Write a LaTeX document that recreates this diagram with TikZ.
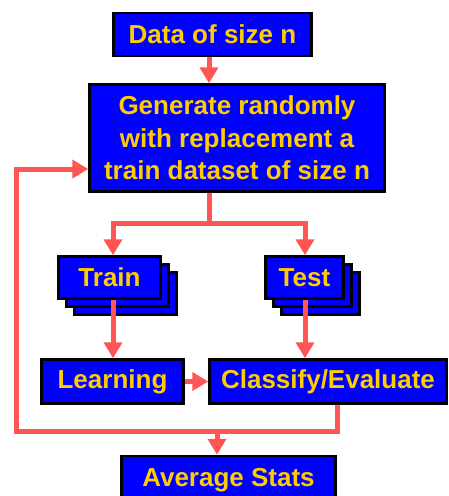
\documentclass[tikz,border=0pt]{standalone}
\usepackage{fontspec}
\setmainfont{Liberation Sans}
\usetikzlibrary{arrows.meta}
\definecolor{boxblue}{RGB}{0,0,255}
\definecolor{txtgold}{RGB}{255,204,0}
\definecolor{flowred}{RGB}{255,85,85}
\begin{document}
\begin{tikzpicture}[x=1pt,y=-1pt,
  box/.style={draw=black, line width=2.5pt, fill=boxblue, text=txtgold,
    font=\fontsize{26}{32.5}\selectfont\bfseries, inner sep=0pt, anchor=center},
  flow/.style={draw=flowred, line width=5pt, line join=miter},
  arr/.style={flow, -{Triangle[width=18pt,length=16pt]}}]
\useasboundingbox (0,0) rectangle (448,496);
\clip (0,0) rectangle (448,496);
% boxes
\node[box, minimum width=198pt, minimum height=43pt] (data) at (212.5,34.5) {Data of size n};
\node[box, minimum width=295pt, minimum height=107pt, align=center] (gen) at (237,138)
  {Generate randomly\\with replacement a\\train dataset of size n};
% train stack
\node[box, minimum width=102pt, minimum height=42pt] (train3) at (125.5,293.5) {};
\node[box, minimum width=102pt, minimum height=42pt] (train2) at (117.5,285.5) {};
\node[box, minimum width=102pt, minimum height=42pt] (train) at (109.5,277.5) {Train};
% test stack
\node[box, minimum width=78pt, minimum height=42pt] (test3) at (320.5,293.5) {};
\node[box, minimum width=78pt, minimum height=42pt] (test2) at (312.5,285.5) {};
\node[box, minimum width=78pt, minimum height=42pt] (test) at (304.5,277.5) {Test};
\node[box, minimum width=142pt, minimum height=44pt] (learn) at (112.5,381.5) {Learning};
\node[box, minimum width=237pt, minimum height=44pt] (classify) at (328,381.5) {Classify/Evaluate};
\node[box, minimum width=214pt, minimum height=48pt] (avg) at (228.5,480) {Average Stats};
% helper coordinates
\coordinate (xa) at (209,0);
\coordinate (xt) at (113,0);
\coordinate (xs) at (305,0);
\coordinate (xc) at (337,0);
\coordinate (xv) at (217,0);
\coordinate (xl) at (16.5,0);
\coordinate (split) at (209,223);
\coordinate (jy) at (0,431);
\coordinate (ly) at (0,169);
% connectors
\draw[arr] (xa |- data.south) -- (xa |- gen.north);
\draw[flow] (xa |- gen.south) -- (split);
\draw[arr] (split) -| (xt |- train.north);
\draw[arr] (split) -| (xs |- test.north);
\draw[arr] (xt |- train.south) -- (xt |- learn.north);
\draw[arr] (xs |- test.south) -- (xs |- classify.north);
\draw[arr] (learn.east) -- (learn.east -| classify.west);
\draw[arr] (xc |- classify.south) -- (xc |- jy) -- (xl |- jy) -- (xl |- ly) -- (ly -| gen.west);
\draw[arr] (xv |- jy) -- (xv |- avg.north);
\end{tikzpicture}
\end{document}
